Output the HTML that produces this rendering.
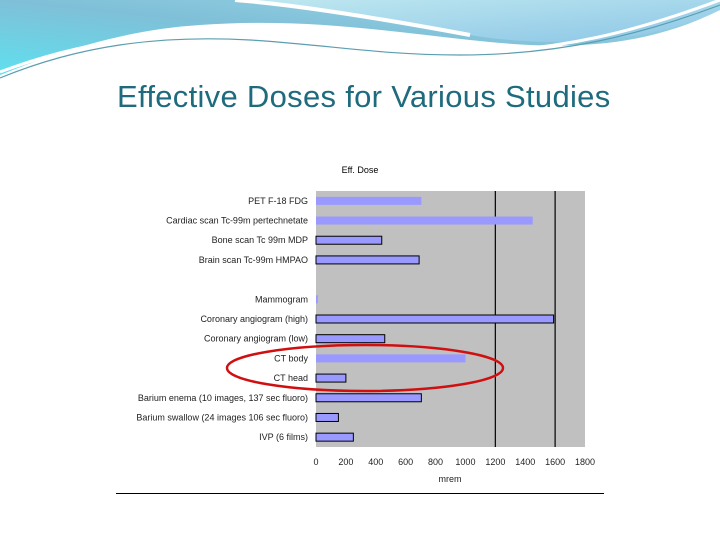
<!DOCTYPE html>
<html><head><meta charset="utf-8"><style>
body{margin:0;width:720px;height:540px;background:#fff;overflow:hidden;font-family:"Liberation Sans",sans-serif;position:relative}
#title{position:absolute;left:117px;top:79px;white-space:nowrap;font-size:31px;letter-spacing:0.3px;color:#1f6b7e}
</style></head><body>
<svg width="720" height="90" style="position:absolute;left:0;top:0">
<defs>
<linearGradient id="g1" x1="0" y1="1" x2="1" y2="0"><stop offset="0" stop-color="#5fe0ee"/><stop offset="0.5" stop-color="#7fc0d8"/><stop offset="1" stop-color="#9fd6e6"/></linearGradient>
<linearGradient id="g2" x1="0" y1="0" x2="1" y2="1"><stop offset="0" stop-color="#bfe8f0"/><stop offset="1" stop-color="#8cc6e6"/></linearGradient>
</defs>
<path d="M0 0 H720 V10 C640 50 560 50 470 40 C380 30 300 18 200 25 C120 30 50 55 0 75 Z" fill="url(#g1)"/>
<path d="M235 0 H720 V10 C660 40 560 50 470 35 C400 22 300 5 235 0 Z" fill="url(#g2)"/>
<path d="M235 0 C300 5 400 22 470 35" stroke="#fff" stroke-width="4" fill="none"/>
<path d="M0 78 C80 45 160 35 250 40 C330 45 380 55 460 55 C560 55 640 35 720 5" stroke="#5a9eb0" stroke-width="1.2" fill="none"/>
<path d="M0 72 C80 42 160 30 250 36 C330 42 380 52 460 52 C560 52 640 30 720 0" stroke="#fff" stroke-width="3" fill="none"/>
</svg>
<div id="title">Effective Doses for Various Studies</div>
<svg id="chart" width="720" height="540" style="position:absolute;left:0;top:0"></svg>
<script>
const categories=["PET F-18 FDG","Cardiac scan Tc-99m pertechnetate","Bone scan Tc 99m MDP","Brain scan Tc-99m HMPAO","","Mammogram","Coronary angiogram (high)","Coronary angiogram (low)","CT body","CT head","Barium enema (10 images, 137 sec fluoro)","Barium swallow (24 images 106 sec fluoro)","IVP (6 films)"];
const values=[705,1450,440,690,null,12,1590,460,1000,200,705,150,250];
const outlined=[false,false,true,true,false,false,true,true,false,true,true,true,true];
const ticks=[0,200,400,600,800,1000,1200,1400,1600,1800];
const gridLines=[1200,1600];
const NS="http://www.w3.org/2000/svg";
const svg=document.getElementById('chart');
const L=316,R=585,T=191,B=447,MAX=1800;
const x=v=>L+(R-L)*v/MAX;
const slot=(B-T)/categories.length;
const y=i=>T+slot*(i+0.5);
function mk(tag,attrs,parent){const e=document.createElementNS(NS,tag);for(const k in attrs)e.setAttribute(k,attrs[k]);(parent||svg).appendChild(e);return e;}
const bg=mk('rect',{x:116,y:155,width:488,height:338,fill:'#fff'});


const base=mk('line',{x1:116,x2:604,y1:493.5,y2:493.5,stroke:'#000','stroke-width':1});


const plot=mk('rect',{x:L,y:T,width:R-L,height:B-T,fill:'#c0c0c0'});


gridLines.forEach(g=>{const l=mk('line',{x1:x(g),x2:x(g),y1:T,y2:B,stroke:'#000','stroke-width':1.2});

});
const ct=mk('text',{x:360,y:173,'font-size':9,'text-anchor':'middle',fill:'#000'});ct.textContent='Eff. Dose';


categories.forEach((c,i)=>{
 if(c){const t=mk('text',{x:308,y:y(i)+3,'font-size':9,'text-anchor':'end',fill:'#222'});t.textContent=c;
 
 }
 if(values[i]!=null){const w=x(values[i])-L;
  const r=mk('rect',{x:L,y:y(i)-4,width:w,height:8,fill:'#9999ff'});
  if(outlined[i]){r.setAttribute('stroke','#000');r.setAttribute('stroke-width','1');}
  
  }
});
ticks.forEach(v=>{const t=mk('text',{x:x(v),y:465,'font-size':9,'text-anchor':'middle',fill:'#222'});t.textContent=v;
 
 });
const xt=mk('text',{x:450,y:482,'font-size':9,'text-anchor':'middle',fill:'#222'});xt.textContent='mrem';


const el=mk('ellipse',{cx:365,cy:368,rx:138,ry:23,fill:'none',stroke:'#d01010','stroke-width':2.5});


</script>
</body></html>
